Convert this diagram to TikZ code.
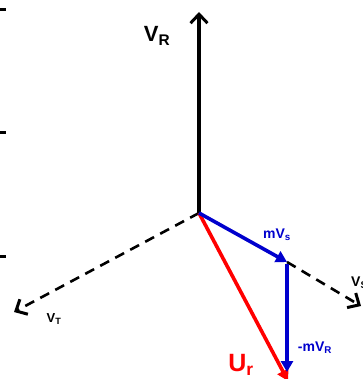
\documentclass[tikz,border=0pt]{standalone}
\usepackage{fontspec}
\setmainfont{Liberation Sans}
\usetikzlibrary{arrows.meta}
\definecolor{vblue}{RGB}{0,0,205}
\definecolor{vred}{RGB}{255,0,0}
\begin{document}
\begin{tikzpicture}[x=1pt,y=-1pt,
  vec/.style={line width=3.6pt},
  barb/.style={-{Straight Barb[length=9pt,width=17pt,line width=3pt]}},
  tri/.style={-{Triangle[length=11pt,width=12pt]}},
  dashaxis/.style={line width=2.6pt,dash pattern=on 10pt off 7pt},
  lbl/.style={font=\bfseries,inner sep=0pt},
  tickmark/.style={line width=3pt}]
\useasboundingbox (0,0) rectangle (362,379);
% ticks
\coordinate (t1a) at (0,10);  \coordinate (t1b) at (6,10);
\coordinate (t2a) at (0,133); \coordinate (t2b) at (6,133);
\coordinate (t3a) at (0,256); \coordinate (t3b) at (6,256);
\draw[tickmark] (t1a) -- (t1b);
\draw[tickmark] (t2a) -- (t2b);
\draw[tickmark] (t3a) -- (t3b);
% points
\coordinate (O) at (199,213);
\coordinate (R) at (199,12);
\coordinate (T) at (14,312);
\coordinate (S) at (361,306);
\coordinate (M) at (287,262);
\coordinate (B) at (287,372);
\coordinate (U) at (288,381);
% dashed axes
\draw[dashaxis,barb] (O) -- (T);
\draw[dashaxis,barb] (M) -- (S);
% red resultant
\draw[vec,vred,tri] (O) -- (U);
% black VR
\draw[vec,barb] (O) -- (R);
% blue vectors
\draw[vec,vblue,tri] (O) -- (M);
\draw[vec,vblue,tri] ([yshift=-2pt]M) -- (B);
% labels
\node[lbl,font=\bfseries\fontsize{22}{22}\selectfont] (lR) at (157,36) {V\textsubscript{R}};
\node[lbl,vblue,font=\bfseries\fontsize{14}{14}\selectfont] (lS) at (277,235) {mV\textsubscript{s}};
\node[lbl,anchor=west,font=\bfseries\fontsize{14}{14}\selectfont] (lVS) at (351,283) {V\textsubscript{S}};
\node[lbl,font=\bfseries\fontsize{13}{13}\selectfont] (lT) at (54,319) {V\textsubscript{T}};
\node[lbl,vblue,font=\bfseries\fontsize{14}{14}\selectfont] (lmR) at (315,348) {-mV\textsubscript{R}};
\node[lbl,vred,font=\bfseries\fontsize{25}{25}\selectfont] (lU) at (241,365) {U\textsubscript{r}};
\end{tikzpicture}
\end{document}
